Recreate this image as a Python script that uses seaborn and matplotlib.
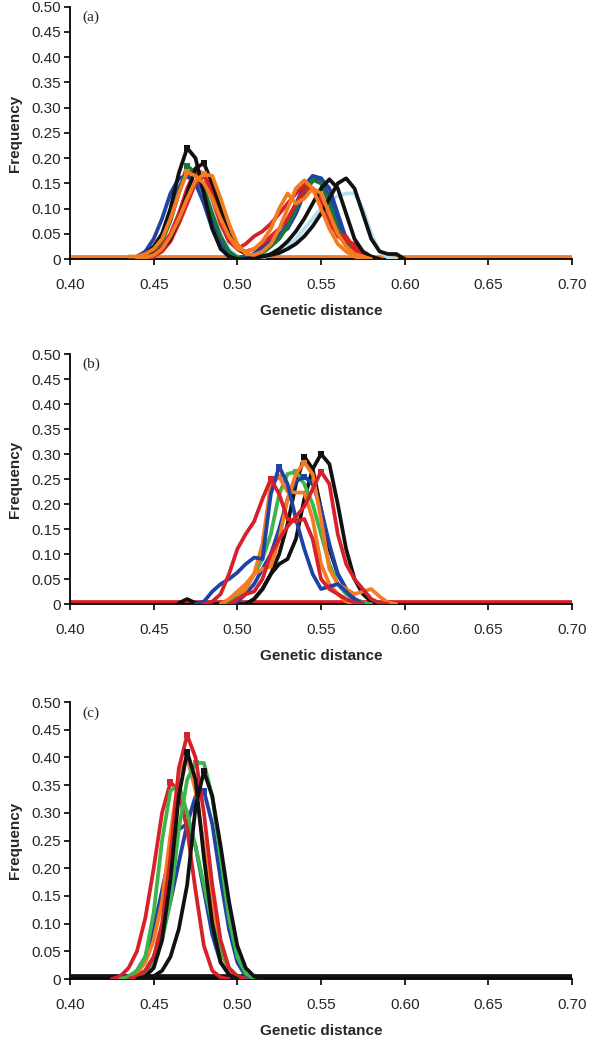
import matplotlib
matplotlib.use("Agg")
import matplotlib.pyplot as plt
from matplotlib.ticker import FuncFormatter
import seaborn as sns

# ---- panel (a) ----
dist_a = [0.435, 0.44, 0.445, 0.45, 0.455, 0.46, 0.465, 0.47, 0.475, 0.48, 0.485,
          0.49, 0.495, 0.50, 0.505, 0.51, 0.515, 0.52, 0.525, 0.53, 0.535, 0.54,
          0.545, 0.55, 0.555, 0.56, 0.565, 0.57, 0.575, 0.58, 0.585, 0.59, 0.595, 0.60]
a_lightblue = [0, 0, 0, 0.005, 0.015, 0.04, 0.08, 0.12, 0.15, 0.14, 0.10, 0.05, 0.02, 0.005,
               0, 0, 0.003, 0.008, 0.015, 0.025, 0.04, 0.06, 0.08, 0.10, 0.115, 0.125, 0.13,
               0.13, 0.10, 0.05, 0.015, 0.003, 0, 0]
a_black1 = [0, 0.003, 0.01, 0.025, 0.05, 0.10, 0.17, 0.22, 0.20, 0.13, 0.06, 0.02, 0.005, 0,
            0, 0.002, 0.005, 0.01, 0.02, 0.035, 0.055, 0.08, 0.11, 0.14, 0.158, 0.14, 0.09,
            0.04, 0.015, 0.005, 0, 0, 0, 0]
a_black2 = [0, 0, 0.005, 0.01, 0.02, 0.04, 0.08, 0.13, 0.18, 0.19, 0.15, 0.10, 0.05, 0.02,
            0.01, 0.005, 0.005, 0.008, 0.012, 0.02, 0.03, 0.045, 0.065, 0.09, 0.12, 0.15, 0.16,
            0.14, 0.09, 0.04, 0.015, 0.01, 0.01, 0]
a_blue1 = [0, 0.005, 0.015, 0.04, 0.08, 0.13, 0.16, 0.165, 0.15, 0.11, 0.06, 0.025, 0.005, 0,
           0.003, 0.01, 0.025, 0.04, 0.045, 0.07, 0.11, 0.145, 0.165, 0.16, 0.12, 0.07, 0.03,
           0.01, 0.003, 0, 0, 0, 0, 0]
a_blue2 = [0, 0, 0.008, 0.02, 0.05, 0.09, 0.14, 0.175, 0.17, 0.13, 0.08, 0.035, 0.01, 0.003,
           0.005, 0.01, 0.02, 0.035, 0.05, 0.06, 0.09, 0.13, 0.155, 0.16, 0.14, 0.09, 0.04,
           0.015, 0.005, 0, 0, 0, 0, 0]
a_green = [0, 0, 0.005, 0.015, 0.035, 0.075, 0.13, 0.185, 0.17, 0.14, 0.09, 0.045, 0.015, 0.003,
           0, 0.005, 0.012, 0.025, 0.04, 0.065, 0.10, 0.135, 0.157, 0.15, 0.11, 0.06, 0.035,
           0.015, 0.005, 0, 0, 0, 0, 0]
a_red1 = [0, 0, 0.003, 0.01, 0.025, 0.05, 0.09, 0.14, 0.175, 0.17, 0.12, 0.07, 0.035, 0.02,
          0.03, 0.045, 0.055, 0.07, 0.09, 0.11, 0.13, 0.147, 0.14, 0.11, 0.07, 0.05, 0.045,
          0.02, 0.005, 0, 0, 0, 0, 0]
a_red2 = [0, 0, 0, 0.005, 0.015, 0.035, 0.07, 0.11, 0.15, 0.165, 0.14, 0.09, 0.045, 0.02,
          0.015, 0.02, 0.03, 0.045, 0.06, 0.08, 0.11, 0.135, 0.14, 0.12, 0.08, 0.045, 0.035,
          0.03, 0.01, 0.003, 0, 0, 0, 0]
a_orange1 = [0.005, 0.005, 0.01, 0.02, 0.04, 0.08, 0.13, 0.172, 0.165, 0.15, 0.12, 0.08, 0.045,
             0.02, 0.015, 0.02, 0.035, 0.06, 0.10, 0.13, 0.11, 0.12, 0.14, 0.13, 0.09, 0.05,
             0.025, 0.01, 0.005, 0, 0, 0, 0, 0]
a_orange2 = [0, 0, 0.003, 0.008, 0.02, 0.045, 0.08, 0.12, 0.155, 0.168, 0.165, 0.12, 0.07, 0.03,
             0.01, 0.008, 0.015, 0.03, 0.06, 0.10, 0.14, 0.156, 0.14, 0.10, 0.06, 0.03, 0.015,
             0.005, 0, 0, 0, 0, 0, 0]

# ---- panel (b) ----
dist_b = [0.465, 0.47, 0.475, 0.48, 0.485, 0.49, 0.495, 0.50, 0.505, 0.51, 0.515, 0.52,
          0.525, 0.53, 0.535, 0.54, 0.545, 0.55, 0.555, 0.56, 0.565, 0.57, 0.575, 0.58,
          0.585, 0.59, 0.595]
b_black1 = [0, 0, 0, 0, 0, 0, 0, 0, 0, 0.01, 0.03, 0.06, 0.10, 0.16, 0.24, 0.295, 0.27, 0.19,
            0.11, 0.06, 0.03, 0.01, 0.003, 0, 0, 0, 0]
b_black2 = [0.002, 0.01, 0.002, 0, 0, 0, 0, 0, 0, 0.01, 0.03, 0.06, 0.08, 0.09, 0.13, 0.21,
            0.27, 0.30, 0.28, 0.20, 0.11, 0.05, 0.02, 0.005, 0, 0, 0]
b_blue1 = [0, 0, 0, 0.005, 0.025, 0.04, 0.05, 0.063, 0.08, 0.093, 0.09, 0.22, 0.275, 0.24,
           0.17, 0.11, 0.06, 0.03, 0.035, 0.04, 0.025, 0.008, 0, 0, 0, 0, 0]
b_blue2 = [0, 0, 0, 0, 0, 0, 0, 0.005, 0.02, 0.04, 0.07, 0.10, 0.15, 0.21, 0.245, 0.255,
           0.24, 0.19, 0.12, 0.06, 0.03, 0.01, 0, 0, 0, 0, 0]
b_green = [0, 0, 0, 0, 0, 0, 0.005, 0.015, 0.03, 0.06, 0.09, 0.14, 0.22, 0.26, 0.265, 0.24,
           0.20, 0.14, 0.08, 0.04, 0.02, 0.01, 0.003, 0, 0, 0, 0]
b_orange1 = [0, 0, 0, 0, 0, 0, 0.01, 0.025, 0.04, 0.06, 0.07, 0.075, 0.13, 0.21, 0.26, 0.283,
             0.26, 0.17, 0.07, 0.04, 0.03, 0.02, 0.025, 0.03, 0.015, 0.003, 0]
b_orange2 = [0, 0, 0, 0, 0, 0, 0, 0.01, 0.03, 0.06, 0.12, 0.24, 0.255, 0.225, 0.223, 0.223,
             0.17, 0.08, 0.04, 0.02, 0.005, 0, 0, 0, 0, 0, 0]
b_red1 = [0, 0, 0, 0, 0.005, 0.02, 0.06, 0.11, 0.14, 0.165, 0.21, 0.25, 0.22, 0.17, 0.165,
          0.17, 0.13, 0.05, 0.03, 0.02, 0.01, 0.003, 0, 0, 0, 0, 0]
b_red2 = [0, 0, 0, 0, 0, 0, 0, 0.01, 0.02, 0.025, 0.05, 0.10, 0.13, 0.155, 0.175, 0.195,
          0.23, 0.265, 0.24, 0.14, 0.08, 0.05, 0.03, 0.01, 0.002, 0, 0]

# ---- panel (c) ----
dist_c = [0.425, 0.43, 0.435, 0.44, 0.445, 0.45, 0.455, 0.46, 0.465, 0.47, 0.475, 0.48,
          0.485, 0.49, 0.495, 0.50, 0.505, 0.51, 0.515]
c_red1 = [0, 0.005, 0.02, 0.05, 0.11, 0.20, 0.30, 0.355, 0.34, 0.27, 0.16, 0.06, 0.015, 0.003,
          0, 0, 0, 0, 0]
c_red2 = [0, 0, 0, 0.005, 0.015, 0.04, 0.10, 0.22, 0.38, 0.44, 0.40, 0.30, 0.17, 0.07, 0.02,
          0.005, 0, 0, 0]
c_blue1 = [0, 0, 0.003, 0.015, 0.04, 0.09, 0.16, 0.23, 0.27, 0.28, 0.24, 0.16, 0.08, 0.03,
           0.008, 0, 0, 0, 0]
c_blue2 = [0, 0, 0, 0.005, 0.015, 0.04, 0.08, 0.14, 0.21, 0.28, 0.33, 0.34, 0.28, 0.18, 0.09,
           0.03, 0.005, 0, 0]
c_orange = [0, 0, 0.003, 0.01, 0.03, 0.07, 0.14, 0.26, 0.37, 0.40, 0.34, 0.24, 0.13, 0.05,
            0.015, 0.003, 0, 0, 0]
c_green1 = [0, 0, 0.005, 0.015, 0.04, 0.12, 0.25, 0.34, 0.35, 0.30, 0.24, 0.17, 0.10, 0.05,
            0.02, 0.005, 0, 0, 0]
c_green2 = [0, 0, 0, 0.003, 0.01, 0.03, 0.07, 0.14, 0.27, 0.36, 0.39, 0.39, 0.33, 0.22, 0.11,
            0.04, 0.01, 0, 0]
c_black1 = [0, 0, 0, 0, 0.005, 0.02, 0.07, 0.18, 0.33, 0.41, 0.36, 0.22, 0.10, 0.03, 0.008,
            0, 0, 0, 0]
c_black2 = [0, 0, 0, 0, 0, 0.005, 0.015, 0.04, 0.09, 0.17, 0.31, 0.375, 0.33, 0.24, 0.14,
            0.06, 0.02, 0.005, 0]

baseline_x = [0.40, 0.70]
baseline_y = [0.005, 0.005]

BLACK = "#111111"
BLUE = "#1f42a6"
DKGREEN = "#18763a"
GREEN = "#3cb54a"
RED = "#d7202a"
ORANGE = "#f47b20"
LIGHTBLUE = "#b4e0f0"

panels = [
    ("(a)", dist_a, [(a_lightblue, LIGHTBLUE), (a_blue1, BLUE), (a_blue2, BLUE),
                     (a_green, DKGREEN), (a_red1, RED), (a_red2, RED),
                     (a_black1, BLACK), (a_black2, BLACK),
                     (a_orange1, ORANGE), (a_orange2, ORANGE)], ORANGE),
    ("(b)", dist_b, [(b_black1, BLACK), (b_black2, BLACK), (b_green, GREEN),
                     (b_blue2, BLUE), (b_orange1, ORANGE), (b_orange2, ORANGE),
                     (b_blue1, BLUE), (b_red2, RED), (b_red1, RED)], RED),
    ("(c)", dist_c, [(c_blue1, BLUE), (c_blue2, BLUE), (c_orange, ORANGE),
                     (c_red1, RED), (c_green1, GREEN), (c_green2, GREEN),
                     (c_red2, RED), (c_black1, BLACK), (c_black2, BLACK)], BLACK),
]

# axes boxes in figure fractions (left, bottom, width, height)
boxes = [
    [0.1167, 0.7502, 0.8367, 0.2433],
    [0.1167, 0.4175, 0.8367, 0.2411],
    [0.1167, 0.0559, 0.8367, 0.2671],
]

sns.set_style("white")
plt.rcParams['font.family'] = ['Liberation Sans', 'DejaVu Sans']

fig = plt.figure(figsize=(6.0, 10.37), dpi=100)

for (tag, dist, curves, base_col), box in zip(panels, boxes):
    ax = fig.add_axes(box)
    sns.lineplot(x=baseline_x, y=baseline_y, ax=ax, color=base_col, lw=3.4,
                 solid_capstyle='butt', zorder=2)
    for vals, col in curves:
        nz = [i for i, v in enumerate(vals) if v > 0]
        lo, hi = max(nz[0] - 1, 0), min(nz[-1] + 1, len(vals) - 1)
        xs, ys = dist[lo:hi + 1], vals[lo:hi + 1]
        peak = ys.index(max(ys))
        sns.lineplot(x=xs, y=ys, ax=ax, color=col, lw=2.7, marker='s',
                     markersize=5, markeredgewidth=0, markevery=[peak],
                     solid_joinstyle='round', zorder=3)

    ax.set_xlim(0.40, 0.70)
    ax.set_ylim(0, 0.50)
    ax.set_xticks([0.40, 0.45, 0.50, 0.55, 0.60, 0.65, 0.70])
    ax.set_yticks([0, 0.05, 0.10, 0.15, 0.20, 0.25, 0.30, 0.35, 0.40, 0.45, 0.50])
    ax.xaxis.set_major_formatter(FuncFormatter(lambda v, p: f"{v:.2f}"))
    ax.yaxis.set_major_formatter(FuncFormatter(lambda v, p: "0" if abs(v) < 1e-9 else f"{v:.2f}"))
    ax.tick_params(direction='out', length=4.5, width=1.2, labelsize=11,
                   bottom=True, left=True, color='black')
    ax.tick_params(axis='x', pad=9)
    ax.tick_params(axis='y', pad=2)
    for s in ['top', 'right']:
        ax.spines[s].set_visible(False)
    for s in ['left', 'bottom']:
        ax.spines[s].set_color('black')
        ax.spines[s].set_linewidth(1.3)
    ax.set_xlabel("Genetic distance", fontsize=11, fontweight='bold', labelpad=9)
    ax.set_ylabel("Frequency", fontsize=11, fontweight='bold', labelpad=7)
    ax.text(0.025, 0.985, tag, transform=ax.transAxes, va='top', ha='left',
            fontsize=11, family=['Liberation Serif', 'DejaVu Serif'])

fig.savefig("out.png", dpi=100)
